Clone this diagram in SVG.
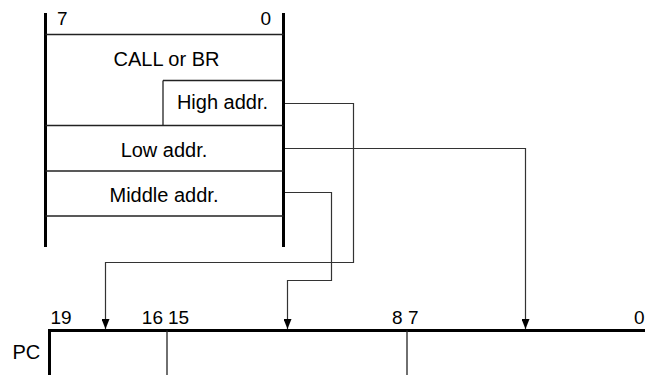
<svg xmlns="http://www.w3.org/2000/svg" width="645" height="375" viewBox="0 0 645 375">
<defs>
<style>
text{font-family:"Liberation Sans",Arial,sans-serif;font-size:20px;fill:#000}
.num{font-size:19px}
.thick{stroke:#000;stroke-width:3;fill:none}
.thin{stroke:#222;stroke-width:1.3;fill:none}
.conn{stroke:#333;stroke-width:1.2;fill:none}
</style>
<marker id="arr" viewBox="0 0 10 8" refX="10" refY="4" markerWidth="10" markerHeight="8" markerUnits="userSpaceOnUse" orient="auto">
<path d="M0,0 L10,4 L0,8 Z" fill="#000"/>
</marker>
</defs>
<rect width="645" height="375" fill="#fff"/>
<g id="instruction">
<line class="thick" x1="45.5" y1="13" x2="45.5" y2="247"/>
<line class="thick" x1="283.5" y1="13" x2="283.5" y2="247"/>
<line class="thin" x1="45.5" y1="34.5" x2="283.5" y2="34.5"/>
<line class="thin" x1="163" y1="80.5" x2="283.5" y2="80.5"/>
<line class="thin" x1="163" y1="80.5" x2="163" y2="125.5"/>
<line class="thin" x1="45.5" y1="125.5" x2="283.5" y2="125.5"/>
<line class="thin" x1="45.5" y1="171" x2="283.5" y2="171"/>
<line class="thin" x1="45.5" y1="216" x2="283.5" y2="216"/>
<text class="num" x="57" y="25">7</text>
<text class="num" x="271" y="25" text-anchor="end">0</text>
<text x="166.5" y="65.5" text-anchor="middle">CALL or BR</text>
<text x="222.5" y="109" text-anchor="middle">High addr.</text>
<text x="164" y="156.5" text-anchor="middle">Low addr.</text>
<text x="164" y="202" text-anchor="middle">Middle addr.</text>
</g>
<g id="pc">
<line class="thick" x1="49.5" y1="330.5" x2="645" y2="330.5"/>
<line class="thick" x1="49.5" y1="329" x2="49.5" y2="375"/>
<line class="thin" x1="167" y1="330.5" x2="167" y2="375"/>
<line class="thin" x1="407" y1="330.5" x2="407" y2="375"/>
<text x="12.5" y="359">PC</text>
<text class="num" x="50.5" y="324">19</text>
<text class="num" x="163" y="324" text-anchor="end">16</text>
<text class="num" x="168" y="324">15</text>
<text class="num" x="392" y="324">8</text>
<text class="num" x="408" y="324">7</text>
<text class="num" x="634" y="324">0</text>
</g>
<g id="connectors">
<path class="conn" d="M285,103.5 H353.5 V262.5 H105.5 V329" marker-end="url(#arr)"/>
<path class="conn" d="M285,148.5 H525.5 V329" marker-end="url(#arr)"/>
<path class="conn" d="M285,192.5 H331.5 V280.5 H287.5 V329" marker-end="url(#arr)"/>
</g>
</svg>
